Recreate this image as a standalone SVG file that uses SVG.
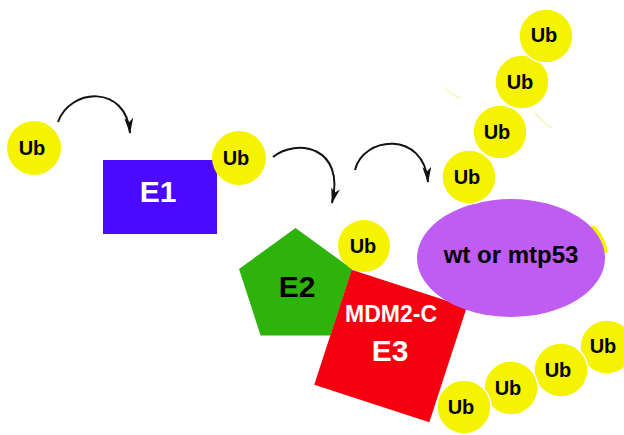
<svg xmlns="http://www.w3.org/2000/svg" width="624" height="435" viewBox="0 0 624 435">
<defs>
<style>
.ub{fill:#f6f300;}
.ubc{fill:#f6f300;stroke:#ffffff;stroke-width:1.5;}
.ubt{font-family:"Liberation Sans",Arial,sans-serif;font-weight:bold;font-size:20px;fill:#000;text-anchor:middle;}
.lbl{font-family:"Liberation Sans",Arial,sans-serif;font-weight:bold;text-anchor:middle;}
.arr{fill:none;stroke:#111;stroke-width:2;marker-end:url(#ah);}
.faint{fill:none;stroke:#f4f09a;stroke-width:1.5;opacity:0.7;}
</style>
<marker id="ah" viewBox="0 0 18 10" refX="17" refY="5" markerWidth="8" markerHeight="4.5" orient="auto" markerUnits="strokeWidth">
<path d="M0,0 L18,5 L0,10 L5,5 z" fill="#111"/>
</marker>
<clipPath id="sliver"><rect x="588" y="226" width="24" height="27"/></clipPath>
</defs>
<rect width="624" height="435" fill="#ffffff"/>

<path class="faint" d="M445,88 Q452,95 460,98"/>
<path class="faint" d="M535,113 Q543,123 552,128"/>

<g id="ub-free">
<circle class="ub" cx="34" cy="148" r="27"/>
<text class="ubt" x="32" y="155" font-size="21">Ub</text>
</g>

<g id="e1">
<rect x="103" y="160" width="114" height="74" fill="#4b0aff"/>
<text class="lbl" x="158" y="202" font-size="30" fill="#ffffff">E1</text>
</g>

<g id="ub-e1">
<circle class="ub" cx="239" cy="158" r="27"/>
<text class="ubt" x="236" y="165" font-size="21">Ub</text>
</g>

<g id="e2">
<polygon points="295.5,228 352,269 330.4,335.5 260.6,335.5 239,269" fill="#2db30c"/>
<text class="lbl" x="297" y="297" font-size="30" fill="#000">E2</text>
</g>

<g id="ub-e2">
<circle class="ub" cx="364" cy="246" r="26"/>
<text class="ubt" x="363" y="253">Ub</text>
</g>

<g id="ub-behind">
<ellipse cx="514" cy="256" rx="94" ry="59" class="ub" clip-path="url(#sliver)"/>
</g>

<g id="e3">
<rect x="-60.5" y="-60.5" width="121" height="121" fill="#f5000f" transform="translate(390.5,346) rotate(18)"/>
<text class="lbl" x="391" y="322" font-size="23" fill="#ffffff">MDM2-C</text>
<text class="lbl" x="390" y="361" font-size="30" fill="#ffffff">E3</text>
</g>

<g id="p53">
<ellipse cx="511" cy="258" rx="94" ry="59" fill="#bf5cf2"/>
<text class="lbl" x="511" y="263" font-size="24" fill="#000">wt or mtp53</text>
</g>

<g id="ub-chain-top">
<circle class="ubc" cx="469" cy="177" r="27"/>
<text class="ubt" x="467" y="184">Ub</text>
<circle class="ubc" cx="500" cy="132" r="27"/>
<text class="ubt" x="497" y="139">Ub</text>
<circle class="ubc" cx="522" cy="82" r="27"/>
<text class="ubt" x="520" y="89">Ub</text>
<circle class="ubc" cx="546" cy="36" r="27"/>
<text class="ubt" x="544" y="42">Ub</text>
</g>

<g id="ub-chain-bottom">
<circle class="ubc" cx="607" cy="347" r="27"/>
<text class="ubt" x="603" y="353">Ub</text>
<circle class="ubc" cx="561" cy="370" r="27"/>
<text class="ubt" x="558" y="377">Ub</text>
<circle class="ubc" cx="511" cy="388" r="27"/>
<text class="ubt" x="508" y="395">Ub</text>
<circle class="ubc" cx="464" cy="407" r="27"/>
<text class="ubt" x="461" y="414">Ub</text>
</g>

<g id="connectors">
<path class="arr" d="M58,122 C70,88 126,84 130,133"/>
<path class="arr" d="M273,157 C296,138 346,146 332,203"/>
<path class="arr" d="M355,170 C363,136 424,130 428,182"/>
</g>
</svg>
